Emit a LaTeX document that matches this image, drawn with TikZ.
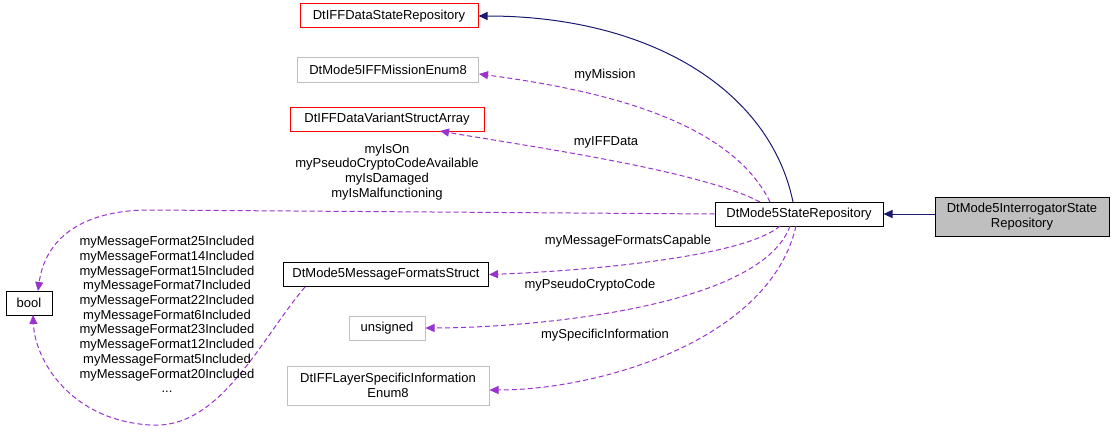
\documentclass[tikz,border=0pt]{standalone}
\usepackage{fontspec}
\setmainfont{Liberation Sans}
\usetikzlibrary{arrows.meta}
\begin{document}
\begin{tikzpicture}[x=1pt,y=-1pt,line width=1pt,
  box/.style={draw=black,fill=white,inner sep=0pt,minimum height=24pt,font=\fontsize{13}{14.7}\selectfont,align=center},
  red/.style={box,draw=red},
  grey/.style={box,draw=gray!50},
  nav/.style={draw={rgb,255:red,25;green,25;blue,112},-{Triangle[length=9pt,width=8pt]},fill=none},
  pur/.style={draw={rgb,255:red,154;green,50;blue,205},dash pattern=on 5pt off 3pt,-{Triangle[length=9pt,width=8pt,fill={rgb,255:red,154;green,50;blue,205}]}},
  lab/.style={font=\fontsize{13}{14.7}\selectfont,align=center,inner sep=0pt}]
\useasboundingbox (0,0) rectangle (1115,436);
\node[red,minimum width=178pt] (dsr) at (389,16) {DtIFFDataStateRepository};
\node[grey,minimum width=181pt] (mis) at (388,70) {DtMode5IFFMissionEnum8};
\node[red,minimum width=194pt] (var) at (387,119) {DtIFFDataVariantStructArray};
\node[box,minimum width=168pt] (sr) at (799,214) {DtMode5StateRepository};
\node[box,fill=gray!50,minimum width=174pt,minimum height=39pt] (int) at (1022,216.5) {DtMode5InterrogatorState\\Repository};
\node[box,minimum width=46pt] (bool) at (29,303) {bool};
\node[box,minimum width=205pt] (mfs) at (386,274.5) {DtMode5MessageFormatsStruct};
\node[grey,minimum width=76pt] (uns) at (387,328) {unsigned};
\node[grey,minimum width=202pt,minimum height=39pt] (lsi) at (388,385.5) {DtIFFLayerSpecificInformation\\Enum8};

\draw[nav] (int.west|-sr) -- (sr.east);
\draw[nav] (793,202) .. controls (770,90) and (650,16) .. (dsr.east);
\draw[pur] (770,202) .. controls (730,120) and (600,90) .. (mis.east|-0,74);
\draw[pur] (760,202) .. controls (700,170) and (520,145) .. (440,131);
\draw[pur] (sr.west) -- (150,210) .. controls (80,210) and (45,240) .. (38,291);
\draw[pur] (780,226) .. controls (740,260) and (560,272) .. (mfs.east);
\draw[pur] (790,226) .. controls (760,310) and (520,328) .. (uns.east);
\draw[pur] (796,226) .. controls (770,340) and (600,390) .. (lsi.east|-0,390);
\draw[pur] (305,287) .. controls (260,340) and (220,430) .. (150,425) .. controls (70,420) and (35,360) .. (33,315);

\node[lab] at (605,75) {myMission};
\node[lab] at (606,142) {myIFFData};
\node[lab] at (387,172) {myIsOn\\myPseudoCryptoCodeAvailable\\myIsDamaged\\myIsMalfunctioning};
\node[lab] at (628,241) {myMessageFormatsCapable};
\node[lab] at (590,285) {myPseudoCryptoCode};
\node[lab] at (605,335) {mySpecificInformation};
\node[lab] at (167,314.5) {myMessageFormat25Included\\myMessageFormat14Included\\myMessageFormat15Included\\myMessageFormat7Included\\myMessageFormat22Included\\myMessageFormat6Included\\myMessageFormat23Included\\myMessageFormat12Included\\myMessageFormat5Included\\myMessageFormat20Included\\...};
\end{tikzpicture}
\end{document}
